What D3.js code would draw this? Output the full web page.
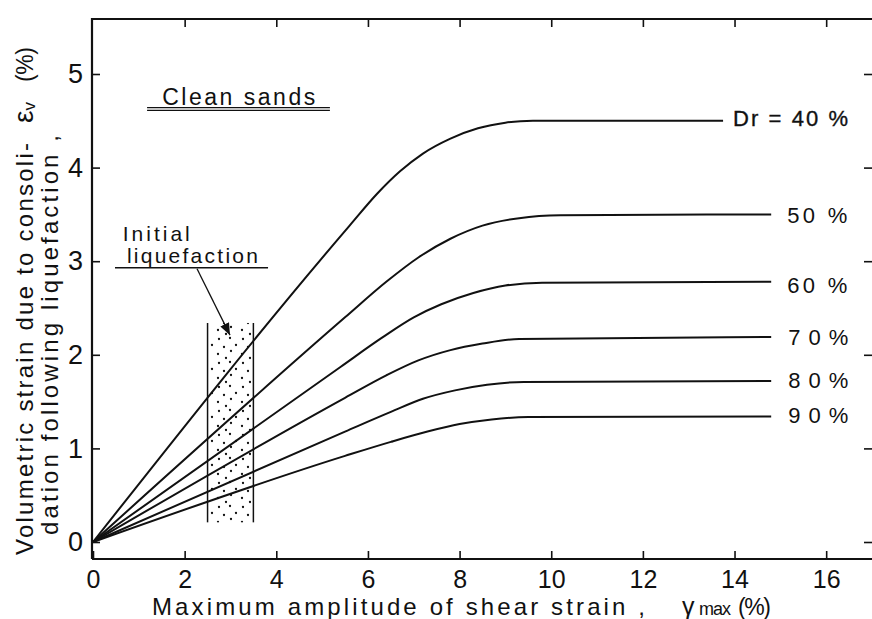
<!DOCTYPE html>
<html><head><meta charset="utf-8">
<script src="https://cdn.jsdelivr.net/npm/d3@7/dist/d3.min.js"></script>
<style>
body{margin:0;background:#fff}
svg{display:block}
text{font-family:"Liberation Sans",Arial,sans-serif;fill:#111}
</style>
</head><body>
<svg id="c" width="872" height="619"></svg>
<script>
// ---- data ----
const xTicks = [0, 2, 4, 6, 8, 10, 12, 14, 16];
const yTicks = [0, 1, 2, 3, 4, 5];
const curveLabels = ["Dr = 40 %", "50 %", "60 %", "70%", "80%", "90%"];
const dr40 = [[0,0],[5.6,3.38],[6.2,3.72],[6.7,3.96],[7.2,4.15],[7.8,4.31],[8.4,4.42],[9.0,4.48],[9.6,4.5],[13.75,4.5]];
const dr50 = [[0,0],[5.5,2.4],[6.4,2.78],[7.1,3.04],[7.8,3.24],[8.5,3.38],[9.3,3.46],[10.2,3.49],[14.8,3.5]];
const dr60 = [[0,0],[5.4,1.87],[6.3,2.18],[7.0,2.40],[7.6,2.54],[8.3,2.66],[9.0,2.74],[9.8,2.77],[14.8,2.78]];
const dr70 = [[0,0],[5.5,1.54],[6.4,1.78],[7.1,1.94],[7.8,2.05],[8.5,2.12],[9.3,2.17],[14.8,2.19]];
const dr80 = [[0,0],[5.5,1.18],[6.5,1.39],[7.2,1.53],[7.9,1.62],[8.6,1.68],[9.4,1.71],[14.8,1.72]];
const dr90 = [[0,0],[5.5,0.92],[6.5,1.07],[7.3,1.18],[8.0,1.26],[8.7,1.31],[9.5,1.335],[14.8,1.34]];
const series = [dr40, dr50, dr60, dr70, dr80, dr90];
const liqBand = {x0: 2.5, x1: 3.5, y0: 0.21, y1: 2.34};

(function () {
// ---- layout ----
const svg = d3.select("#c");
const x = d3.scaleLinear().domain([0, 17]).range([93, 872]);
const y = d3.scaleLinear().domain([0, 5]).range([542, 74]);
const frameTop = 19, frameBottom = 559, frameLeft = 92;
const ink = "#111";
const fam = '"Liberation Sans",Arial,sans-serif';

// frame
svg.append("path")
  .attr("d", `M${frameLeft},${frameBottom}V${frameTop}H872M${frameLeft},${frameBottom}H872`)
  .attr("fill", "none").attr("stroke", ink).attr("stroke-width", 2.2);

// bottom axis
const gx = svg.append("g").attr("transform", `translate(0,${frameBottom})`)
  .call(d3.axisBottom(x).tickValues(xTicks).tickFormat(d3.format("d")).tickSize(-8).tickSizeOuter(0).tickPadding(11));
// left axis
const gy = svg.append("g").attr("transform", `translate(${frameLeft},0)`)
  .call(d3.axisLeft(y).tickValues(yTicks).tickFormat(d3.format("d")).tickSize(-8).tickSizeOuter(0).tickPadding(9));
// top + right inner ticks
const gt = svg.append("g").attr("transform", `translate(0,${frameTop})`)
  .call(d3.axisTop(x).tickValues(xTicks.filter(d => d > 0)).tickSize(-8).tickSizeOuter(0).tickFormat(""));
const gr = svg.append("g").attr("transform", `translate(872,0)`)
  .call(d3.axisRight(y).tickValues(yTicks).tickSize(-8).tickSizeOuter(0).tickFormat(""));
[gx, gy, gt, gr].forEach(g => {
  g.select(".domain").remove();
  g.selectAll(".tick line").attr("stroke", ink).attr("stroke-width", 1.6);
  g.selectAll("text").attr("fill", ink).style("font-family", fam);
});
gx.selectAll("text").attr("font-size", 25);
gy.selectAll("text").attr("font-size", 27);

// stipple band
const defs = svg.append("defs");
const pat = defs.append("pattern").attr("id", "dots").attr("patternUnits", "userSpaceOnUse")
  .attr("width", 24).attr("height", 24);
[[3,3],[14,2],[20,9],[8,11],[15,15],[2,18],[10,22]].forEach(p =>
  pat.append("circle").attr("cx", p[0]).attr("cy", p[1]).attr("r", 1.15).attr("fill", ink));
svg.append("rect")
  .attr("x", x(liqBand.x0) + 2).attr("y", y(liqBand.y1))
  .attr("width", x(liqBand.x1) - x(liqBand.x0) - 4).attr("height", y(liqBand.y0) - y(liqBand.y1))
  .attr("fill", "url(#dots)");
[liqBand.x0, liqBand.x1].forEach(v =>
  svg.append("line").attr("x1", x(v)).attr("x2", x(v)).attr("y1", y(liqBand.y1)).attr("y2", y(liqBand.y0))
    .attr("stroke", ink).attr("stroke-width", 1.5));

// curves
const line = d3.line().x(d => x(d[0])).y(d => y(d[1])).curve(d3.curveMonotoneX);
svg.selectAll("path.curve").data(series).join("path").attr("class", "curve")
  .attr("d", line).attr("fill", "none").attr("stroke", ink).attr("stroke-width", 2);

// curve labels
const labelDx = [10, 16, 16, 17, 17, 17];
const labelDy = [5, 9, 11, 8, 7, 6.5];
series.forEach((s, i) => {
  const last = s[s.length - 1];
  const t = svg.append("text").attr("x", x(last[0]) + labelDx[i]).attr("y", y(last[1]) + labelDy[i])
    .attr("font-size", 22).text(curveLabels[i]);
  if (i === 0) t.attr("textLength", 115).attr("lengthAdjust", "spacing").attr("stroke", ink).attr("stroke-width", 0.35);
  else t.attr("textLength", 60).attr("lengthAdjust", "spacing");
});

// "Clean sands"
svg.append("text").attr("x", x(1.51)).attr("y", y(4.67)).attr("font-size", 23)
  .attr("textLength", 153).attr("lengthAdjust", "spacing").text("Clean sands");
[4.64, 4.612].forEach(v => svg.append("line").attr("x1", x(1.18)).attr("x2", x(5.17))
  .attr("y1", y(v)).attr("y2", y(v)).attr("stroke", ink).attr("stroke-width", 1.3));

// "Initial liquefaction" annotation
svg.append("text").attr("x", x(0.65)).attr("y", y(3.22)).attr("font-size", 21)
  .attr("textLength", 67).attr("lengthAdjust", "spacing").text("Initial");
svg.append("text").attr("x", x(0.74)).attr("y", y(2.98)).attr("font-size", 21)
  .attr("textLength", 131).attr("lengthAdjust", "spacing").text("liquefaction");
svg.append("line").attr("x1", x(0.48)).attr("x2", x(3.82)).attr("y1", y(2.93)).attr("y2", y(2.93))
  .attr("stroke", ink).attr("stroke-width", 1.4);
defs.append("marker").attr("id", "ah").attr("viewBox", "0 0 10 10").attr("refX", 10).attr("refY", 5)
  .attr("markerWidth", 12).attr("markerHeight", 12).attr("orient", "auto").attr("markerUnits", "userSpaceOnUse")
  .append("path").attr("d", "M0,1L10,5L0,9Z").attr("fill", ink);
svg.append("line").attr("x1", x(2.27)).attr("y1", y(2.92)).attr("x2", x(2.99)).attr("y2", y(2.21))
  .attr("stroke", ink).attr("stroke-width", 1.3).attr("marker-end", "url(#ah)");

// y-axis title (two rotated lines)
svg.append("text").attr("transform", "translate(33,555) rotate(-90)").attr("font-size", 24)
  .attr("textLength", 412).attr("lengthAdjust", "spacing").text("Volumetric strain due to consoli-");
const eps = svg.append("text").attr("transform", "translate(33,123) rotate(-90)").attr("font-size", 28);
eps.append("tspan").text("ε");
eps.append("tspan").attr("font-size", 17).attr("dy", 2).text("v");
svg.append("text").attr("transform", "translate(33,82) rotate(-90)").attr("font-size", 23)
  .attr("textLength", 35).attr("lengthAdjust", "spacing").text("(%)");
svg.append("text").attr("transform", "translate(58,535) rotate(-90)").attr("font-size", 24)
  .attr("textLength", 400).attr("lengthAdjust", "spacing").text("dation  following  liquefaction ,");

// x-axis title
svg.append("text").attr("x", 152).attr("y", 615).attr("font-size", 24)
  .attr("textLength", 493).attr("lengthAdjust", "spacing").text("Maximum amplitude of shear strain ,");
svg.append("text").attr("x", 682).attr("y", 615).attr("font-size", 25).text("γ");
svg.append("text").attr("x", 699).attr("y", 615).attr("font-size", 18)
  .attr("textLength", 32).attr("lengthAdjust", "spacing").text("max");
svg.append("text").attr("x", 738).attr("y", 615).attr("font-size", 23)
  .attr("textLength", 33).attr("lengthAdjust", "spacing").text("(%)");
})();
</script>
</body></html>
